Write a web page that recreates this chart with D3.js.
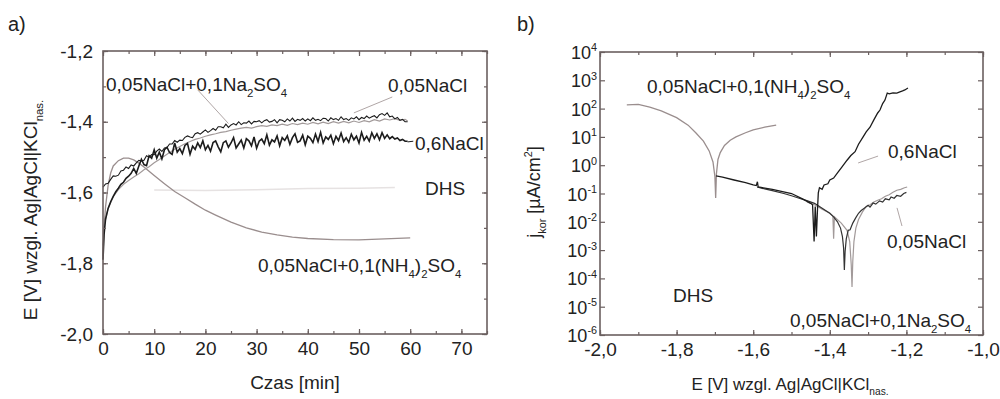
<!DOCTYPE html>
<html>
<head>
<meta charset="utf-8">
<script src="https://cdn.jsdelivr.net/npm/d3@7"></script>
<style>
  html, body { margin: 0; padding: 0; background: #fff; }
  svg { display: block; font-family: "Liberation Sans", Arial, sans-serif; }
</style>
</head>
<body>
<svg id="chart" width="1000" height="399"></svg>
<script>
// ---------- panel a) : E vs time [min] ----------
const aXTicks = [0, 10, 20, 30, 40, 50, 60, 70];
const aYTicks = [-2.0, -1.8, -1.6, -1.4, -1.2];

// 0,05NaCl+0,1Na2SO4 (black, upper)
const aNa2SO4 = [
  [0,-1.585],[0.5,-1.576],[1,-1.574],[1.5,-1.563],[2,-1.553],[2.5,-1.554],[3,-1.551],[3.5,-1.539],
  [4,-1.537],[4.5,-1.528],[5,-1.532],[5.5,-1.522],[6,-1.525],[6.5,-1.516],[7,-1.509],[7.5,-1.511],
  [8,-1.509],[8.5,-1.496],[9,-1.500],[9.5,-1.493],[10,-1.493],[10.5,-1.483],[11,-1.477],[11.5,-1.484],
  [12,-1.474],[12.5,-1.473],[13,-1.463],[13.5,-1.463],[14,-1.453],[14.5,-1.458],[15,-1.452],[15.5,-1.453],
  [16,-1.444],[16.5,-1.440],[17,-1.443],[17.5,-1.445],[18,-1.434],[18.5,-1.431],[19,-1.435],[19.5,-1.429],
  [20,-1.423],[20.5,-1.430],[21,-1.425],[21.5,-1.419],[22,-1.424],[22.5,-1.414],[23,-1.414],[23.5,-1.417],
  [24,-1.407],[24.5,-1.416],[25,-1.409],[25.5,-1.405],[26,-1.409],[26.5,-1.400],[27,-1.408],[27.5,-1.403],
  [28,-1.404],[28.5,-1.398],[29,-1.406],[29.5,-1.399],[30,-1.400],[30.5,-1.397],[31,-1.403],[31.5,-1.397],
  [32,-1.394],[32.5,-1.401],[33,-1.399],[33.5,-1.394],[34,-1.403],[34.5,-1.394],[35,-1.396],[35.5,-1.400],
  [36,-1.392],[36.5,-1.398],[37,-1.390],[37.5,-1.399],[38,-1.393],[38.5,-1.396],[39,-1.391],[39.5,-1.398],
  [40,-1.392],[40.5,-1.397],[41,-1.389],[41.5,-1.396],[42,-1.393],[42.5,-1.397],[43,-1.390],[43.5,-1.391],
  [44,-1.398],[44.5,-1.389],[45,-1.394],[45.5,-1.391],[46,-1.396],[46.5,-1.386],[47,-1.394],[47.5,-1.391],
  [48,-1.396],[48.5,-1.389],[49,-1.392],[49.5,-1.386],[50,-1.394],[50.5,-1.388],[51,-1.391],[51.5,-1.384],
  [52,-1.390],[52.5,-1.386],[53,-1.383],[53.5,-1.389],[54,-1.380],[54.5,-1.377],[55,-1.382],[55.5,-1.375],
  [56,-1.386],[56.5,-1.384],[57,-1.392],[57.5,-1.388],[58,-1.396],[58.5,-1.393],[59,-1.400],[59.5,-1.400]
];

// 0,6NaCl (black, noisy)
const aNaCl06 = [
  [0,-1.79],[0.2,-1.72],[0.5,-1.675],[1,-1.645],[1.5,-1.626],[2,-1.611],[2.5,-1.598],[3,-1.588],
  [3.5,-1.577],[4,-1.571],[4.5,-1.560],[5,-1.554],[5.5,-1.546],[6,-1.532],[6.5,-1.546],[7,-1.525],
  [7.5,-1.506],[8,-1.521],[8.5,-1.524],[9,-1.496],[9.5,-1.503],[10,-1.479],[10.5,-1.503],[11,-1.486],
  [11.5,-1.505],[12,-1.479],[12.5,-1.472],[13,-1.487],[13.5,-1.492],[14,-1.460],[14.5,-1.486],[15,-1.476],
  [15.5,-1.490],[16,-1.467],[16.5,-1.461],[17,-1.492],[17.5,-1.469],[18,-1.478],[18.5,-1.460],[19,-1.473],
  [19.5,-1.454],[20,-1.479],[20.5,-1.467],[21,-1.483],[21.5,-1.459],[22,-1.454],[22.5,-1.471],[23,-1.485],
  [23.5,-1.459],[24,-1.454],[24.5,-1.472],[25,-1.460],[25.5,-1.445],[26,-1.474],[26.5,-1.463],[27,-1.452],
  [27.5,-1.474],[28,-1.448],[28.5,-1.454],[29,-1.468],[29.5,-1.443],[30,-1.475],[30.5,-1.455],[31,-1.449],
  [31.5,-1.462],[32,-1.437],[32.5,-1.466],[33,-1.451],[33.5,-1.457],[34,-1.440],[34.5,-1.468],[35,-1.445],
  [35.5,-1.453],[36,-1.440],[36.5,-1.464],[37,-1.445],[37.5,-1.434],[38,-1.458],[38.5,-1.454],[39,-1.438],
  [39.5,-1.465],[40,-1.441],[40.5,-1.447],[41,-1.459],[41.5,-1.435],[42,-1.456],[42.5,-1.430],[43,-1.460],
  [43.5,-1.443],[44,-1.450],[44.5,-1.438],[45,-1.462],[45.5,-1.441],[46,-1.453],[46.5,-1.432],[47,-1.456],
  [47.5,-1.445],[48,-1.458],[48.5,-1.435],[49,-1.451],[49.5,-1.441],[50,-1.460],[50.5,-1.430],[51,-1.452],
  [51.5,-1.441],[52,-1.455],[52.5,-1.431],[53,-1.447],[53.5,-1.434],[54,-1.451],[54.5,-1.431],[55,-1.447],
  [55.5,-1.437],[56,-1.448],[56.5,-1.442],[57,-1.449],[57.5,-1.446],[58,-1.453],[58.5,-1.450],[59,-1.455],
  [59.5,-1.455]
];

// 0,05NaCl (grey)
const aNaCl005 = [
  [0,-1.75],[0.3,-1.69],[1,-1.645],[2,-1.612],[3,-1.592],[4,-1.577],[5,-1.566],[6,-1.556],[7,-1.547],
  [8,-1.536],[9,-1.527],[10,-1.516],[11,-1.507],[12,-1.497],[13,-1.487],[14,-1.478],[15,-1.470],
  [16,-1.462],[17,-1.456],[18,-1.450],[19,-1.446],[20,-1.441],[21,-1.437],[22,-1.434],[23,-1.430],
  [24,-1.428],[25,-1.424],[26,-1.421],[27,-1.418],[28,-1.416],[29,-1.418],[30,-1.414],[31,-1.411],
  [32,-1.413],[33,-1.409],[34,-1.411],[35,-1.407],[36,-1.410],[37,-1.405],[38,-1.408],[39,-1.404],
  [40,-1.407],[41,-1.402],[42,-1.406],[43,-1.401],[44,-1.405],[45,-1.400],[46,-1.404],[47,-1.399],
  [48,-1.403],[49,-1.398],[50,-1.402],[51,-1.397],[52,-1.400],[53,-1.394],[54,-1.398],[55,-1.392],
  [56,-1.395],[57,-1.391],[58,-1.396],[59,-1.393],[59.5,-1.398]
];

// 0,05NaCl+0,1(NH4)2SO4 (brownish grey, smooth)
const aNH4 = [
  [0,-1.78],[0.2,-1.70],[0.5,-1.64],[1,-1.58],[1.5,-1.545],[2,-1.525],[3,-1.51],[4,-1.503],[5,-1.503],
  [6,-1.508],[7,-1.517],[8,-1.528],[9,-1.54],[10,-1.552],[12,-1.575],[14,-1.597],[16,-1.615],[18,-1.633],
  [20,-1.65],[22,-1.664],[25,-1.684],[28,-1.70],[31,-1.712],[34,-1.72],[37,-1.726],[40,-1.73],[45,-1.733],
  [50,-1.734],[55,-1.731],[60,-1.728]
];

// DHS (very faint)
const aDHS = [[10,-1.593],[20,-1.594],[30,-1.592],[40,-1.589],[50,-1.588],[57,-1.586]];

// leader lines (data coords)
const aLeaders = [
  [[18.5,-1.31],[24.5,-1.405]],
  [[56.5,-1.33],[49,-1.375]],
  [[59.5,-1.457],[60.6,-1.455]]
];

// ---------- panel b) : j_kor vs E ----------
const bXTicks = [-2.0, -1.8, -1.6, -1.4, -1.2, -1.0];
const bYExp = [4, 3, 2, 1, 0, -1, -2, -3, -4, -5, -6];

// 0,05NaCl+0,1(NH4)2SO4 (grey)
const bNH4 = [
  [-1.93,135],[-1.90,141],[-1.87,112],[-1.84,83],[-1.80,48],[-1.77,26],[-1.75,14],[-1.73,7.1],
  [-1.715,3.2],[-1.705,1.3],[-1.700,0.4],[-1.698,0.07],[-1.696,0.5],[-1.692,1.6],[-1.686,2.8],
  [-1.675,5.0],[-1.66,7.6],[-1.645,10],[-1.62,14],[-1.60,17.8],[-1.57,22],[-1.54,26]
];

// DHS / 0,6NaCl (black)
const bNaCl06 = [
  [-1.697,0.42],[-1.68,0.38],[-1.65,0.30],[-1.62,0.24],[-1.60,0.20],[-1.592,0.19],[-1.589,0.26],
  [-1.587,0.17],[-1.55,0.14],[-1.50,0.10],[-1.47,0.063],[-1.45,0.045],[-1.445,0.04],[-1.441,0.002],
  [-1.438,0.035],[-1.435,0.003],[-1.432,0.03],[-1.430,0.105],[-1.427,0.16],[-1.42,0.14],[-1.415,0.2],
  [-1.405,0.22],[-1.40,0.3],[-1.39,0.35],[-1.378,0.58],[-1.37,0.8],[-1.355,1.5],[-1.345,2.2],
  [-1.334,3.0],[-1.325,5.5],[-1.313,10],[-1.305,15],[-1.295,22],[-1.285,40],[-1.275,70],[-1.269,89],
  [-1.262,150],[-1.256,200],[-1.250,355],[-1.245,330],[-1.235,360],[-1.225,355],[-1.217,390],
  [-1.21,420],[-1.204,457],[-1.196,537]
];

// 0,05NaCl+0,1Na2SO4 (black)
const bNa2SO4 = [
  [-1.59,0.17],[-1.57,0.145],[-1.55,0.126],[-1.52,0.1],[-1.50,0.083],[-1.48,0.068],[-1.46,0.056],
  [-1.44,0.045],[-1.43,0.037],[-1.42,0.030],[-1.40,0.020],[-1.39,0.015],[-1.38,0.010],[-1.372,0.006],
  [-1.367,0.003],[-1.364,0.0012],[-1.362,0.0002],[-1.360,0.0009],[-1.357,0.0025],[-1.352,0.005],
  [-1.347,0.0052],[-1.340,0.009],[-1.332,0.014],[-1.325,0.02],[-1.318,0.025],[-1.31,0.03],[-1.30,0.038],
  [-1.295,0.033],[-1.287,0.046],[-1.28,0.042],[-1.27,0.055],[-1.262,0.05],[-1.255,0.065],[-1.245,0.06],
  [-1.24,0.075],[-1.232,0.068],[-1.225,0.085],[-1.215,0.08],[-1.207,0.1],[-1.20,0.11]
];

// 0,05NaCl (grey)
const bNaCl005 = [
  [-1.46,0.05],[-1.44,0.04],[-1.42,0.028],[-1.40,0.02],[-1.392,0.016],[-1.390,0.0025],[-1.388,0.015],
  [-1.37,0.009],[-1.355,0.005],[-1.348,0.002],[-1.344,0.0003],[-1.342,0.00005],[-1.340,0.0004],
  [-1.337,0.002],[-1.332,0.006],[-1.325,0.012],[-1.315,0.022],[-1.305,0.035],[-1.295,0.04],[-1.285,0.05],
  [-1.275,0.058],[-1.265,0.065],[-1.255,0.08],[-1.245,0.09],[-1.235,0.11],[-1.225,0.13],[-1.215,0.14],
  [-1.205,0.16],[-1.198,0.17]
];

const bLeaders = [
  [[-1.274,2.1],[-1.326,1.2]],
  [[-1.2245,0.031],[-1.2115,0.0071]]
];

// ---------- drawing ----------
const INK = '#222';
const FRAME = '#6b6060';
const BLACK = '#1c1c1c';
const GREY = '#9a8e8e';

const svg = d3.select('#chart');
const locale = d3.formatLocale({ decimal: ',', thousands: ' ', grouping: [3], currency: ['', ''], minus: '-' });
const fmt1 = locale.format('.1f');
const fmt0 = locale.format('d');

// text with sub / superscripts; parts: 'str' or ['str','sub'|'sup']
function rich(g, x, y, parts, size, anchor) {
  const t = g.append('text')
    .attr('x', x).attr('y', y)
    .attr('font-size', size)
    .attr('text-anchor', anchor || 'start')
    .attr('fill', INK);
  let shift = 0;
  parts.forEach(function(p) {
    const s = typeof p === 'string' ? [p, 'n'] : p;
    const target = s[1] === 'sub' ? size * 0.32 : s[1] === 'sup' ? -size * 0.42 : 0;
    t.append('tspan')
      .attr('dy', target - shift)
      .attr('font-size', s[1] === 'n' ? size : size * 0.6)
      .text(s[0]);
    shift = target;
  });
  return t;
}

function styleAxis(sel) {
  sel.attr('font-family', null).attr('font-size', null);
  sel.selectAll('.domain').remove();
  sel.selectAll('.tick line').attr('stroke', FRAME).attr('stroke-width', 1.2);
  sel.selectAll('.tick text').attr('fill', INK).attr('font-size', 19);
}

function frame(g, x, y, xMinor, yMinor, xMajor, yMajor, xFmt, yFmt) {
  const [x0, x1] = x.range();
  const [y0, y1] = y.range();
  g.append('g').attr('transform', 'translate(0,' + y0 + ')')
    .call(d3.axisBottom(x).tickValues(xMinor).tickSize(-3).tickFormat('')).call(styleAxis);
  g.append('g').attr('transform', 'translate(0,' + y1 + ')')
    .call(d3.axisTop(x).tickValues(xMinor).tickSize(-3).tickFormat('')).call(styleAxis);
  g.append('g').attr('transform', 'translate(' + x0 + ',0)')
    .call(d3.axisLeft(y).tickValues(yMinor).tickSize(-3).tickFormat('')).call(styleAxis);
  g.append('g').attr('transform', 'translate(' + x1 + ',0)')
    .call(d3.axisRight(y).tickValues(yMinor).tickSize(-3).tickFormat('')).call(styleAxis);

  g.append('g').attr('transform', 'translate(0,' + y0 + ')')
    .call(d3.axisBottom(x).tickValues(xMajor).tickSize(-5).tickPadding(8).tickFormat(xFmt)).call(styleAxis);
  g.append('g').attr('transform', 'translate(0,' + y1 + ')')
    .call(d3.axisTop(x).tickValues(xMajor).tickSize(-5).tickFormat('')).call(styleAxis);
  g.append('g').attr('transform', 'translate(' + x0 + ',0)')
    .call(d3.axisLeft(y).tickValues(yMajor).tickSize(-5).tickPadding(10).tickFormat(yFmt)).call(styleAxis);
  g.append('g').attr('transform', 'translate(' + x1 + ',0)')
    .call(d3.axisRight(y).tickValues(yMajor).tickSize(-5).tickFormat('')).call(styleAxis);

  g.append('rect')
    .attr('x', x0).attr('y', y1)
    .attr('width', x1 - x0).attr('height', y0 - y1)
    .attr('fill', 'none').attr('stroke', FRAME).attr('stroke-width', 1.6);
}

// ----- panel a -----
const gA = svg.append('g');
const xA = d3.scaleLinear().domain([0, 75]).range([103, 487]);
const yA = d3.scaleLinear().domain([-2.0, -1.2]).range([334, 51]);
const lineA = d3.line().x(d => xA(d[0])).y(d => yA(d[1]));

gA.append('path').datum(aDHS).attr('d', lineA).attr('fill', 'none').attr('stroke', '#e6e2e2').attr('stroke-width', 1.5);
gA.append('path').datum(aNH4).attr('d', lineA).attr('fill', 'none').attr('stroke', GREY).attr('stroke-width', 1.3);
gA.append('path').datum(aNaCl005).attr('d', lineA).attr('fill', 'none').attr('stroke', '#a29a9a').attr('stroke-width', 1.2);
gA.append('path').datum(aNaCl06).attr('d', lineA).attr('fill', 'none').attr('stroke', BLACK).attr('stroke-width', 1.6);
gA.append('path').datum(aNa2SO4).attr('d', lineA).attr('fill', 'none').attr('stroke', BLACK).attr('stroke-width', 1.1);
aLeaders.forEach(function(l, i) {
  gA.append('path').datum(l).attr('d', lineA).attr('fill', 'none')
    .attr('stroke', i === 2 ? BLACK : '#b0a6a6').attr('stroke-width', 1);
});

frame(gA, xA, yA, d3.range(0, 76, 5), d3.range(-2.0, -1.19, 0.1), aXTicks, aYTicks, fmt0, fmt1);

rich(gA, 106, 91, ['0,05NaCl+0,1Na', ['2', 'sub'], 'SO', ['4', 'sub']], 19);
rich(gA, 388, 92, ['0,05NaCl'], 19);
rich(gA, 415, 150, ['0,6NaCl'], 19);
rich(gA, 425, 195, ['DHS'], 19);
rich(gA, 258, 272, ['0,05NaCl+0,1(NH', ['4', 'sub'], ')', ['2', 'sub'], 'SO', ['4', 'sub']], 19);

rich(gA, 295, 389, ['Czas [min]'], 19, 'middle');
rich(gA, 0, 0, ['E [V] wzgl. Ag|AgCl|KCl', ['nas.', 'sub']], 19, 'middle')
  .attr('transform', 'translate(37,210) rotate(-90)');
rich(gA, 8, 31, ['a)'], 20);

// ----- panel b -----
const gB = svg.append('g');
const xB = d3.scaleLinear().domain([-2.0, -1.0]).range([600, 983]);
const yB = d3.scaleLog().domain([1e-6, 1e4]).range([335, 52]);
const lineB = d3.line().x(d => xB(d[0])).y(d => yB(d[1]));

gB.append('path').datum(bNH4).attr('d', lineB).attr('fill', 'none').attr('stroke', GREY).attr('stroke-width', 1.3);
gB.append('path').datum(bNaCl005).attr('d', lineB).attr('fill', 'none').attr('stroke', '#a29a9a').attr('stroke-width', 1.2);
gB.append('path').datum(bNa2SO4).attr('d', lineB).attr('fill', 'none').attr('stroke', '#333').attr('stroke-width', 1.2);
gB.append('path').datum(bNaCl06).attr('d', lineB).attr('fill', 'none').attr('stroke', BLACK).attr('stroke-width', 1.3);
bLeaders.forEach(function(l) {
  gB.append('path').datum(l).attr('d', lineB).attr('fill', 'none').attr('stroke', '#b0a6a6').attr('stroke-width', 1);
});

const decades = bYExp.map(e => Math.pow(10, e));
const minorLog = yB.ticks().filter(v => !decades.some(d => Math.abs(v / d - 1) < 1e-6));
frame(gB, xB, yB, d3.range(-2.0, -0.99, 0.1), minorLog, bXTicks, decades, fmt1, () => '');

bYExp.forEach(function(e) {
  rich(gB, 597, yB(Math.pow(10, e)) + 7, ['10', [String(e), 'sup']], 18, 'end');
});

rich(gB, 647, 93, ['0,05NaCl+0,1(NH', ['4', 'sub'], ')', ['2', 'sub'], 'SO', ['4', 'sub']], 19);
rich(gB, 888, 158, ['0,6NaCl'], 19);
rich(gB, 887, 248, ['0,05NaCl'], 19);
rich(gB, 673, 302, ['DHS'], 19);
rich(gB, 790, 327, ['0,05NaCl+0,1Na', ['2', 'sub'], 'SO', ['4', 'sub']], 19);

rich(gB, 790, 390, ['E [V] wzgl. Ag|AgCl|KCl', ['nas.', 'sub']], 17, 'middle');
rich(gB, 0, 0, ['j', ['kor', 'sub'], ' [\u00b5A/cm', ['2', 'sup'], ']'], 18, 'middle')
  .attr('transform', 'translate(540,192) rotate(-90)');
rich(gB, 517, 31, ['b)'], 20);
</script>
</body>
</html>
